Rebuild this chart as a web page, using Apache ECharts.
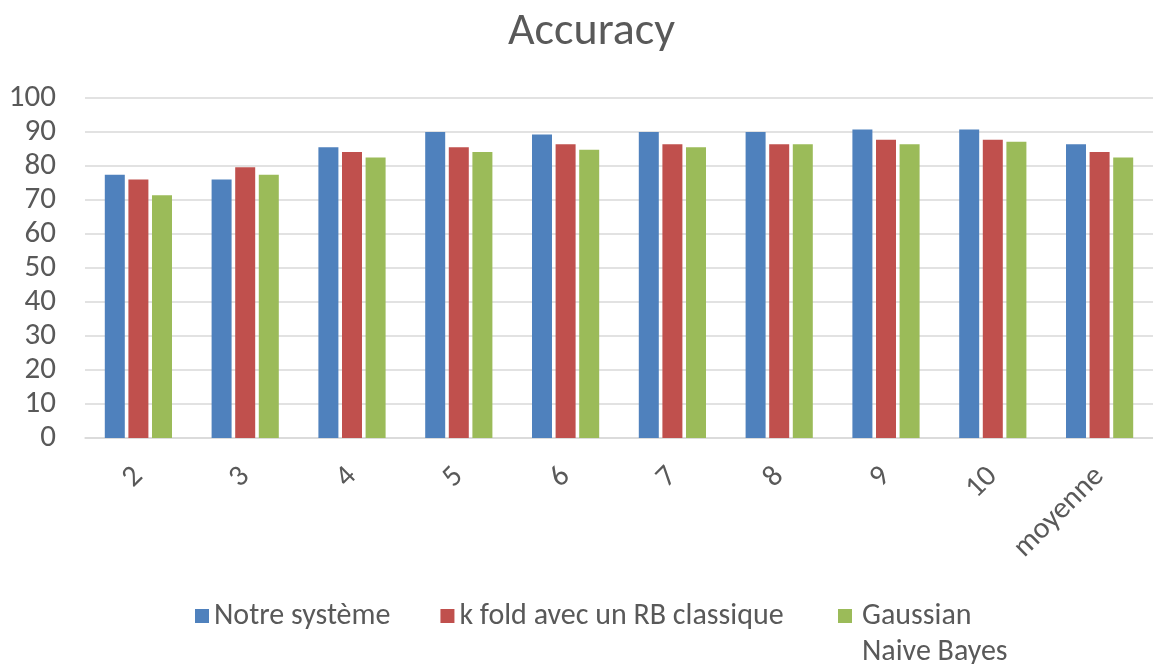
<!DOCTYPE html>
<html>
<head>
<meta charset="utf-8">
<script src="https://cdn.jsdelivr.net/npm/echarts@6/dist/echarts.min.js"></script>
<style>html,body{margin:0;padding:0;background:#fff}#c{width:1153px;height:664px}</style>
</head>
<body>
<div id="c"></div>
<script>
const categories = ['2','3','4','5','6','7','8','9','10','moyenne'];
const seriesNames = ['Notre système','k fold avec un RB classique','Gaussian Naive Bayes'];
const notreSysteme = [77.4, 76.0, 85.5, 90.0, 89.3, 90.0, 90.0, 90.7, 90.7, 86.4];
const kFold = [76.0, 79.6, 84.1, 85.5, 86.4, 86.4, 86.4, 87.7, 87.7, 84.1];
const gaussianNB = [71.4, 77.4, 82.5, 84.1, 84.8, 85.5, 86.4, 86.4, 87.1, 82.5];
const yTicks = [0,10,20,30,40,50,60,70,80,90,100];
const colors = ['#4f81bd','#c0504d','#9bbb59'];

const font = 'Carlito, "Liberation Sans", "Noto Sans", sans-serif';
const chart = echarts.init(document.getElementById('c'));
const mk = (name, data, i) => ({
  name, type: 'bar', data, barWidth: 20, barGap: '18%',
  itemStyle: { color: colors[i] }
});
chart.setOption({
  animation: false,
  textStyle: { fontFamily: font },
  title: { text: 'Accuracy', left: 503, top: 4,
    textStyle: { fontFamily: font, fontSize: 46, fontWeight: 'normal', color: '#595959' } },
  legend: [{
    data: [seriesNames[0], seriesNames[1]], left: 190, top: 596, icon: 'rect',
    itemWidth: 14, itemHeight: 14, itemGap: 50, itemTextGap: 8,
    textStyle: { fontFamily: font, fontSize: 30, color: '#595959' }
  }, {
    data: [seriesNames[2]], left: 828, top: 593,
    icon: 'none', itemWidth: 0, itemHeight: 14, itemTextGap: 0,
    formatter: () => '{sq|}{g|}{t|Gaussian}\n{sp|}{t|Naive Bayes}',
    textStyle: { fontFamily: font, fontSize: 30, color: '#595959', lineHeight: 36,
      rich: {
        sq: { width: 14, height: 14, backgroundColor: colors[2], padding: 0 },
        g: { width: 10, height: 14 },
        sp: { width: 24, height: 14 },
        t: { fontFamily: font, fontSize: 30, color: '#595959', lineHeight: 36 }
      } }
  }],
  grid: { left: 85, top: 98, width: 1077, bottom: 226, containLabel: false },
  xAxis: {
    type: 'category', data: categories,
    axisLine: { lineStyle: { color: '#d9d9d9', width: 1.5 } },
    axisTick: { show: false },
    axisLabel: { rotate: 45, fontSize: 30, color: '#595959', margin: 34, fontFamily: font }
  },
  yAxis: {
    type: 'value', min: yTicks[0], max: yTicks[yTicks.length-1], interval: 10,
    axisLine: { show: false }, axisTick: { show: false },
    splitLine: { lineStyle: { color: '#d9d9d9', width: 1.5 } },
    axisLabel: { fontSize: 31, color: '#595959', margin: 29, fontFamily: font }
  },
  series: [mk(seriesNames[0], notreSysteme, 0), mk(seriesNames[1], kFold, 1), mk(seriesNames[2], gaussianNB, 2)]
});
</script>
</body>
</html>
